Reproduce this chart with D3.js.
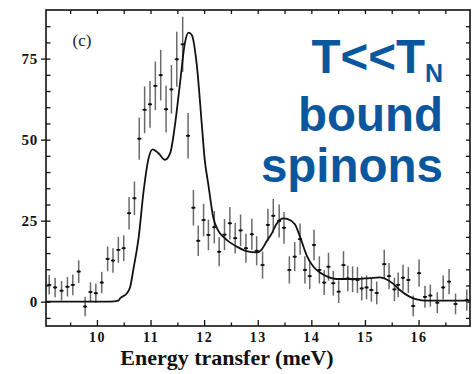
<!DOCTYPE html>
<html>
<head>
<meta charset="utf-8">
<script src="https://cdn.jsdelivr.net/npm/d3@7"></script>
<style>
  html, body { margin: 0; padding: 0; background: #fff; }
  svg { display: block; }
</style>
</head>
<body>
<svg id="chart" width="475" height="374"></svg>
<script>
// Measured neutron scattering intensity vs energy transfer (meV)
const energy = [9.11, 9.22, 9.34, 9.45, 9.55, 9.66, 9.78, 9.88, 9.98, 10.09,
  10.20, 10.30, 10.40, 10.50, 10.60, 10.70, 10.79, 10.89, 10.99, 11.09,
  11.19, 11.29, 11.39, 11.49, 11.60, 11.70, 11.80, 11.89, 11.99, 12.08,
  12.19, 12.28, 12.38, 12.48, 12.58, 12.68, 12.78, 12.89, 12.98, 13.09,
  13.19, 13.29, 13.40, 13.49, 13.59, 13.69, 13.79, 13.88, 13.97, 14.05,
  14.15, 14.24, 14.32, 14.41, 14.51, 14.60, 14.68, 14.77, 14.86, 14.94,
  15.03, 15.12, 15.22, 15.36, 15.45, 15.55, 15.62, 15.71, 15.81, 15.90,
  16.01, 16.12, 16.22, 16.35, 16.46, 16.57, 16.69, 16.90];
const intensity = [5.2, 4.4, 3.4, 4.6, 5.2, 9.3, -1.5, 3.0, 2.6, 5.9,
  13.2, 12.7, 16.0, 16.5, 27.3, 31.9, 50.3, 59.2, 60.9, 66.6,
  69.9, 59.4, 65.5, 74.8, 79.4, 51.2, 29.0, 18.8, 25.2, 20.6,
  23.0, 15.4, 20.7, 24.2, 19.6, 22.0, 16.5, 20.8, 15.7, 11.3,
  23.7, 26.5, 24.9, 22.8, 9.8, 13.9, 19.3, 9.8, 7.9, 17.5,
  9.8, 5.9, 10.8, 5.7, 3.1, 11.3, 7.2, 6.9, 6.7, 4.1,
  4.4, 3.6, 2.7, 11.6, 7.9, 3.8, 5.2, 7.4, 6.7, -1.3,
  8.8, 1.5, 1.9, -0.3, 4.4, 6.2, -0.7, 0.5];
const errorBar = [3.0, 3.0, 3.0, 3.0, 3.2, 3.5, 3.0, 3.0, 3.0, 3.3,
  3.8, 3.8, 4.0, 4.0, 5.0, 5.2, 6.5, 7.2, 7.2, 7.5,
  7.8, 7.2, 7.5, 8.5, 8.5, 7.0, 5.5, 4.7, 5.0, 4.7,
  5.0, 4.5, 4.8, 5.0, 4.7, 4.9, 4.5, 4.8, 4.5, 4.2,
  5.0, 5.2, 5.1, 4.9, 4.2, 4.5, 4.8, 4.2, 4.0, 4.7,
  4.2, 3.8, 4.3, 3.8, 3.5, 4.3, 4.0, 4.0, 4.0, 3.7,
  3.7, 3.6, 3.5, 4.4, 4.0, 3.6, 3.8, 4.0, 4.0, 3.2,
  4.2, 3.4, 3.4, 3.2, 3.7, 3.9, 3.2, 3.3];

// Model line shape (bound spinon spectrum convolved with resolution)
const fitEnergy = [9.05, 10.25, 10.40, 10.43, 10.56, 10.62, 10.68, 10.78, 10.87, 10.96,
  11.04, 11.15, 11.27, 11.37, 11.46, 11.55, 11.64, 11.71, 11.77, 11.86,
  11.96, 12.01, 12.08, 12.17, 12.26, 12.36, 12.48, 12.61, 12.79, 12.98,
  13.07, 13.17, 13.26, 13.35, 13.48, 13.56, 13.69, 13.79, 13.91, 14.04,
  14.16, 14.29, 14.47, 14.84, 15.09, 15.28, 15.39, 15.53, 15.65, 15.84,
  15.99, 16.12, 16.96];
const fitIntensity = [0, 0, 0.3, 1.0, 2.6, 4.5, 10, 20, 34, 44,
  47, 45.8, 43.8, 46, 55, 67.4, 79.7, 83, 82.3, 73.5,
  54, 44, 36, 26, 22, 20, 18.3, 17, 15.6, 15.2,
  16, 18.7, 21, 24, 25.7, 25.5, 24, 20, 14.4, 10.8,
  9, 7.8, 7.0, 7.0, 7.3, 7.5, 7, 5.5, 3.6, 1.5,
  0.6, 0.3, 0.3];

const xTickLabels = [10, 11, 12, 13, 14, 15, 16];
const yTickLabels = [0, 25, 50, 75];
const xTitle = "Energy transfer (meV)";
const panelLabel = "(c)";
const noteLines = ["T<<T", "N", "bound", "spinons"];

const svg = d3.select("#chart");
const x = d3.scaleLinear().domain([9.05, 16.96]).range([46, 470]);
const y = d3.scaleLinear().domain([-7.5, 90]).range([326, 10]);
const [x0, x1] = x.range();
const [yb, yt] = y.range();

const serif = "'Liberation Serif', 'DejaVu Serif', serif";
const halfSteps = d3.range(9.5, 16.96, 0.5);
const fiveSteps = d3.range(-5, 90, 5);

function styleAxis(g) {
  g.select(".domain").remove();
  g.selectAll(".tick line").attr("stroke", "#111").attr("stroke-width", 1.3);
  g.selectAll("text").attr("font-family", serif).attr("font-weight", "bold").attr("fill", "#111");
}

// bottom axis: minor ticks, then labelled integer ticks
svg.append("g").attr("transform", `translate(0,${yb})`)
  .call(d3.axisBottom(x).tickValues(halfSteps.filter(v => v % 1 !== 0)).tickSize(-3.5).tickFormat(""))
  .call(styleAxis);
svg.append("g").attr("transform", `translate(0,${yb})`)
  .call(d3.axisBottom(x).tickValues(xTickLabels).tickSize(-6).tickPadding(6).tickFormat(d3.format("d")))
  .call(styleAxis)
  .call(g => g.selectAll("text").attr("font-size", 14).attr("letter-spacing", 1.5));

// top axis
svg.append("g").attr("transform", `translate(0,${yt})`)
  .call(d3.axisTop(x).tickValues(halfSteps).tickSize(-4).tickFormat(""))
  .call(styleAxis);

// left axis: inward minor ticks, outward labelled major ticks
svg.append("g").attr("transform", `translate(${x0},0)`)
  .call(d3.axisLeft(y).tickValues(fiveSteps).tickSize(-4.5).tickFormat(""))
  .call(styleAxis);
svg.append("g").attr("transform", `translate(${x0},0)`)
  .call(d3.axisLeft(y).tickValues(yTickLabels).tickSize(5).tickPadding(3).tickFormat(d3.format("d")))
  .call(styleAxis)
  .call(g => g.selectAll("text").attr("font-size", 15).attr("letter-spacing", 0.8));

// right axis
svg.append("g").attr("transform", `translate(${x1},0)`)
  .call(d3.axisRight(y).tickValues(fiveSteps).tickSize(-4).tickFormat(""))
  .call(styleAxis);

// frame
svg.append("rect")
  .attr("x", x0).attr("y", yt)
  .attr("width", x1 - x0).attr("height", yb - yt)
  .attr("fill", "none").attr("stroke", "#111").attr("stroke-width", 1.6);

const plot = svg.append("g");
const points = energy.map((e, i) => ({ e, v: intensity[i], s: errorBar[i] }));

// error bars
plot.selectAll("line.err").data(points).join("line")
  .attr("class", "err")
  .attr("x1", d => x(d.e)).attr("x2", d => x(d.e))
  .attr("y1", d => y(d.v + d.s)).attr("y2", d => y(d.v - d.s))
  .attr("stroke", "#6a6a6a").attr("stroke-width", 1.5);

// point markers
plot.selectAll("line.pt").data(points).join("line")
  .attr("class", "pt")
  .attr("x1", d => x(d.e) - 2).attr("x2", d => x(d.e) + 2)
  .attr("y1", d => y(d.v)).attr("y2", d => y(d.v))
  .attr("stroke", "#111").attr("stroke-width", 1.6);
plot.selectAll("circle.pt").data(points).join("circle")
  .attr("class", "pt")
  .attr("cx", d => x(d.e)).attr("cy", d => y(d.v)).attr("r", 1.2)
  .attr("fill", "#111");

// model curve
const fit = fitEnergy.map((e, i) => [e, fitIntensity[i]]);
plot.append("path")
  .datum(fit)
  .attr("d", d3.line().x(d => x(d[0])).y(d => y(d[1])).curve(d3.curveMonotoneX))
  .attr("fill", "none").attr("stroke", "#111").attr("stroke-width", 1.8);

// axis title
svg.append("text")
  .attr("x", 227).attr("y", 365)
  .attr("text-anchor", "middle")
  .attr("font-family", serif).attr("font-weight", "bold")
  .attr("font-size", 22).attr("fill", "#111")
  .text(xTitle);

// panel label
svg.append("text")
  .attr("x", 82).attr("y", 46).attr("text-anchor", "middle")
  .attr("font-family", serif).attr("font-size", 17).attr("fill", "#222")
  .text(panelLabel);

// annotation
const blue = "#0b579e";
const note = svg.append("g")
  .attr("font-family", "'Liberation Sans', Arial, sans-serif")
  .attr("font-weight", "bold").attr("fill", blue).attr("text-anchor", "end");
const l1 = note.append("text").attr("x", 443).attr("y", 73).attr("font-size", 47.5);
l1.append("tspan").text(noteLines[0]);
l1.append("tspan").attr("font-size", 25).attr("dy", 9).text(noteLines[1]);
note.append("text").attr("x", 443).attr("y", 131).attr("font-size", 47.5).text(noteLines[2]);
note.append("text").attr("x", 443).attr("y", 182).attr("font-size", 47.5).text(noteLines[3]);
</script>
</body>
</html>
